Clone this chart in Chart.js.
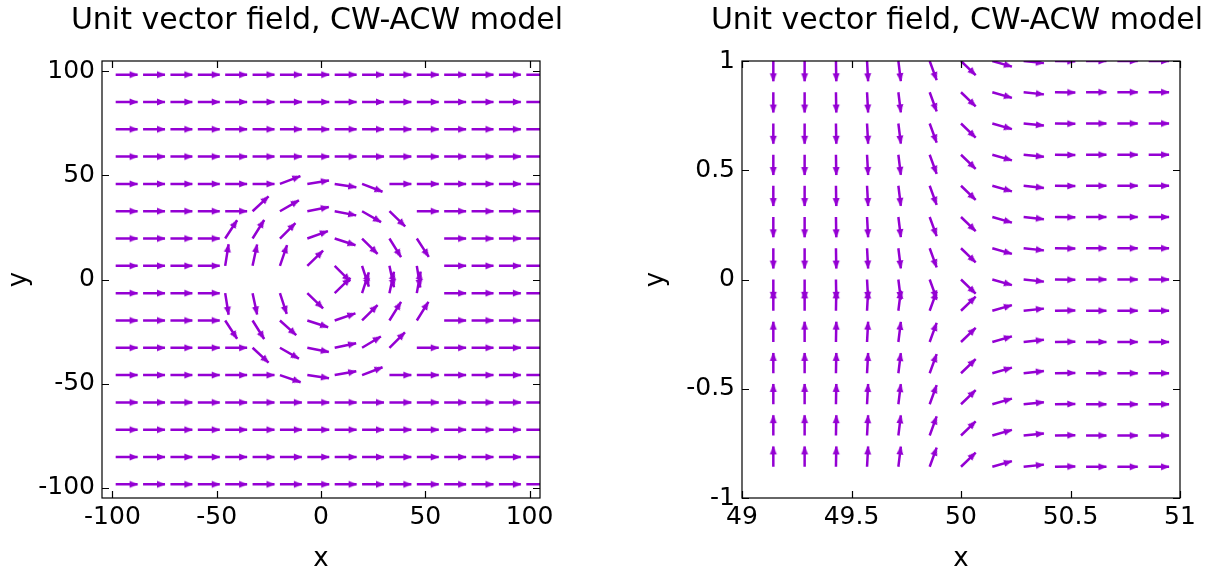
<!DOCTYPE html>
<html>
<head>
<meta charset="utf-8">
<script src="https://cdn.jsdelivr.net/npm/chart.js@4.4.1/dist/chart.umd.min.js"></script>
<style>
  html, body { margin: 0; padding: 0; background: #ffffff; overflow: hidden; }
  #wrap { position: relative; width: 1211px; height: 575px; overflow: hidden; }
  .panel { position: absolute; top: 0; width: 634px; height: 575px; }
  #leftPanel { left: 0; }
  #rightPanel { left: 640px; }
</style>
</head>
<body>
<div id="wrap">
  <div class="panel" id="leftPanel"><canvas id="leftChart" width="634" height="575"></canvas></div>
  <div class="panel" id="rightPanel"><canvas id="rightChart" width="634" height="575"></canvas></div>
</div>
<script>
// ---------- shared text ----------
const chartTitle = 'Unit vector field, CW-ACW model';
const xAxisName = 'x';
const yAxisName = 'y';

// ---------- full field: 16 x 16 sample grid ----------
const fullXTicks = [-100, -50, 0, 50, 100];
const fullXLabels = ['-100', '-50', '0', '50', '100'];
const fullYTicks = [-100, -50, 0, 50, 100];
const fullYLabels = ['-100', '-50', '0', '50', '100'];
const fullGridX = [-98.44, -85.31, -72.19, -59.06, -45.94, -32.81, -19.69, -6.56,
                   6.56, 19.69, 32.81, 45.94, 59.06, 72.19, 85.31, 98.44];
const fullGridY = [98.44, 85.31, 72.19, 59.06, 45.94, 32.81, 19.69, 6.56,
                   -6.56, -19.69, -32.81, -45.94, -59.06, -72.19, -85.31, -98.44];
const fullArrowLength = 10.5;
// direction of each unit vector in degrees (0 = +x), one row per fullGridY value
const fullAngles = [
  [0, 0, 0, 0, 0, 0, 0, 0, 0, 0, 0, 0, 0, 0, 0, 0],
  [0, 0, 0, 0, 0, 0, 0, 0, 0, 0, 0, 0, 0, 0, 0, 0],
  [0, 0, 0, 0, 0, 0, 0, 0, 0, 0, 0, 0, 0, 0, 0, 0],
  [0, 0, 0, 0, 0, 0, 0, 0, 0, 0, 0, 0, 0, 0, 0, 0],
  [0, 0, 0, 0, 0, 0, 21, 9, -9, -21, 0, 0, 0, 0, 0, 0],
  [0, 0, 0, 0, 0, 43, 30, 11, -11, -30, -44, 0, 0, 0, 0, 0],
  [0, 0, 0, 0, 57, 58, 45, 20, -18, -45, -58, -57, 0, 0, 0, 0],
  [0, 0, 0, 0, 81, 78, 71, 44, -45, -72, -78, -81, 0, 0, 0, 0],
  [0, 0, 0, 0, -81, -78, -72, -44, 44, 72, 78, 80, 0, 0, 0, 0],
  [0, 0, 0, 0, -57, -58, -42, -18, 19, 45, 58, 58, 0, 0, 0, 0],
  [0, 0, 0, 0, 0, -43, -30, -11, 12, 31, 45, 0, 0, 0, 0, 0],
  [0, 0, 0, 0, 0, 0, -19, -8, 10, 21, 0, 0, 0, 0, 0, 0],
  [0, 0, 0, 0, 0, 0, 0, 0, 0, 0, 0, 0, 0, 0, 0, 0],
  [0, 0, 0, 0, 0, 0, 0, 0, 0, 0, 0, 0, 0, 0, 0, 0],
  [0, 0, 0, 0, 0, 0, 0, 0, 0, 0, 0, 0, 0, 0, 0, 0],
  [0, 0, 0, 0, 0, 0, 0, 0, 0, 0, 0, 0, 0, 0, 0, 0]
];

// ---------- close-up of the edge at x = 50 ----------
const edgeXTicks = [49, 49.5, 50, 50.5, 51];
const edgeXLabels = ['49', '49.5', '50', '50.5', '51'];
const edgeYTicks = [-1, -0.5, 0, 0.5, 1];
const edgeYLabels = ['-1', '-0.5', '0', '0.5', '1'];
const edgeGridX = [49.143, 49.286, 49.429, 49.571, 49.714, 49.857, 50.0,
                   50.143, 50.286, 50.429, 50.571, 50.714, 50.857, 51.0];
const edgeGridY = [1.0, 0.857, 0.714, 0.571, 0.429, 0.286, 0.143, 0.0,
                   -0.143, -0.286, -0.429, -0.571, -0.714, -0.857];
const edgeArrowLength = 0.093;
// column directions (degrees) for the clockwise half (y >= 0) and the anticlockwise half (y < 0)
const edgeAnglesCW  = [-90, -90, -89, -87, -83, -70, -44, -16, -6, -1, 0, 0, 0, 0];
const edgeAnglesACW = [90, 90, 89, 87, 83, 70, 44, 16, 6, 1, 0, 0, 0, 0];

// ---------- drawing helpers ----------
const arrowColor = '#9400D3';
const fontFamily = "'DejaVu Sans', 'Liberation Sans', sans-serif";

// shaft segments: tail, head, gap ... ; heads carry their tail for orientation
function buildArrows(gridX, gridY, angleAt, len) {
  const pts = [];
  gridY.forEach((y0, i) => {
    gridX.forEach((x0, j) => {
      const a = angleAt(i, j) * Math.PI / 180;
      const x1 = x0 + len * Math.cos(a);
      const y1 = y0 + len * Math.sin(a);
      pts.push({ x: x0, y: y0, head: false });
      pts.push({ x: x1, y: y1, head: true, tx: x0, ty: y0 });
      pts.push({ x: x1, y: null, head: false });
    });
  });
  return pts;
}

// filled arrow head whose tip sits in the middle of the image
function makeHead(len, half, color) {
  const c = document.createElement('canvas');
  c.width = Math.ceil(len) * 2 + 2;
  c.height = Math.ceil(half) * 2 + 2;
  const g = c.getContext('2d');
  const cx = c.width / 2, cy = c.height / 2;
  g.fillStyle = color;
  g.beginPath();
  g.moveTo(cx + 0.5, cy);
  g.lineTo(cx - len, cy - half);
  g.lineTo(cx - len, cy + half);
  g.closePath();
  g.fill();
  return c;
}
const headImage = makeHead(8, 3.6, arrowColor);

// border box with inward ticks on all four sides
const framePlugin = {
  id: 'frame',
  afterDatasetsDraw(chart) {
    const { ctx, chartArea: a, scales: { x, y } } = chart;
    const tl = 7;
    ctx.save();
    ctx.strokeStyle = '#000000';
    ctx.lineWidth = 1.2;
    ctx.beginPath();
    x.ticks.forEach(t => {
      const p = Math.round(x.getPixelForValue(t.value)) + 0.5;
      ctx.moveTo(p, a.bottom); ctx.lineTo(p, a.bottom - tl);
      ctx.moveTo(p, a.top); ctx.lineTo(p, a.top + tl);
    });
    y.ticks.forEach(t => {
      const p = Math.round(y.getPixelForValue(t.value)) + 0.5;
      ctx.moveTo(a.left, p); ctx.lineTo(a.left + tl, p);
      ctx.moveTo(a.right, p); ctx.lineTo(a.right - tl, p);
    });
    ctx.stroke();
    ctx.strokeRect(a.left, a.top, a.right - a.left, a.bottom - a.top);
    ctx.restore();
  }
};

function headRotation(ctx) {
  const r = ctx.raw;
  if (!r || !r.head) return 0;
  const xs = ctx.chart.scales.x, ys = ctx.chart.scales.y;
  const dx = xs.getPixelForValue(r.x) - xs.getPixelForValue(r.tx);
  const dy = ys.getPixelForValue(r.y) - ys.getPixelForValue(r.ty);
  return Math.atan2(dy, dx) * 180 / Math.PI;
}

function makeChart(canvasId, p) {
  const tickFont = { family: fontFamily, size: 25 };
  return new Chart(document.getElementById(canvasId), {
    type: 'scatter',
    data: {
      datasets: [{
        data: p.points,
        showLine: true,
        spanGaps: false,
        borderColor: arrowColor,
        borderWidth: 2.5,
        backgroundColor: arrowColor,
        pointStyle: headImage,
        pointRadius: ctx => (ctx.raw && ctx.raw.head ? 4 : 0),
        pointHoverRadius: 0,
        rotation: headRotation
      }]
    },
    options: {
      responsive: false,
      animation: false,
      events: [],
      layout: { padding: 0 },
      plugins: {
        legend: { display: false },
        tooltip: { enabled: false },
        title: {
          display: true,
          text: chartTitle,
          color: '#000000',
          font: { family: fontFamily, size: 30, weight: 'normal' },
          padding: { top: 3, bottom: 22 }
        }
      },
      scales: {
        x: {
          type: 'linear',
          min: p.xMin, max: p.xMax,
          afterBuildTicks: s => { s.ticks = p.xTicks.map(v => ({ value: v })); },
          afterFit: s => { s.height = 77; },
          grid: { display: false, drawTicks: false },
          border: { display: false },
          ticks: {
            padding: 4, color: '#000000', font: tickFont,
            maxRotation: 0, autoSkip: false,
            callback: (v, i) => p.xLabels[i]
          },
          title: {
            display: true, text: xAxisName, color: '#000000',
            font: { family: fontFamily, size: 26 }, padding: { top: 0, bottom: 0 }
          }
        },
        y: {
          type: 'linear',
          min: p.yMin, max: p.yMax,
          afterBuildTicks: s => { s.ticks = p.yTicks.map(v => ({ value: v })); },
          afterFit: s => { s.width = 102; },
          grid: { display: false, drawTicks: false },
          border: { display: false },
          ticks: {
            padding: 7, color: '#000000', font: tickFont,
            autoSkip: false,
            callback: (v, i) => p.yLabels[i]
          },
          title: {
            display: true, text: yAxisName, color: '#000000',
            font: { family: fontFamily, size: 26 }, padding: { top: p.yTitlePad, bottom: 0 }
          }
        },
        // empty right-hand margin box so the title centres over the plot
        margin: {
          type: 'linear',
          position: 'right',
          min: 0, max: 1,
          afterFit: s => { s.width = 94; },
          grid: { display: false, drawTicks: false },
          border: { display: false },
          ticks: { display: false },
          title: { display: false }
        }
      }
    },
    plugins: [framePlugin]
  });
}

makeChart('leftChart', {
  points: buildArrows(fullGridX, fullGridY, (i, j) => fullAngles[i][j], fullArrowLength),
  xMin: -105, xMax: 105, yMin: -105, yMax: 105,
  xTicks: fullXTicks, xLabels: fullXLabels,
  yTicks: fullYTicks, yLabels: fullYLabels,
  yTitlePad: 4
});

makeChart('rightChart', {
  points: buildArrows(edgeGridX, edgeGridY,
    (i, j) => (edgeGridY[i] >= 0 ? edgeAnglesCW[j] : edgeAnglesACW[j]), edgeArrowLength),
  xMin: 49, xMax: 51, yMin: -1, yMax: 1,
  xTicks: edgeXTicks, xLabels: edgeXLabels,
  yTicks: edgeYTicks, yLabels: edgeYLabels,
  yTitlePad: 1
});
</script>
</body>
</html>
